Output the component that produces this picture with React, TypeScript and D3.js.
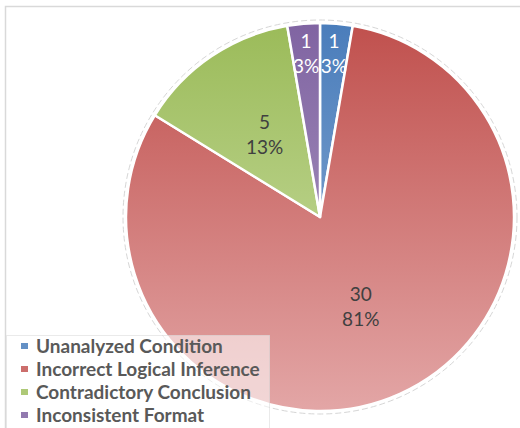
import { useEffect, useRef } from 'react';
import * as d3 from 'd3';

const categories = ['Unanalyzed Condition', 'Incorrect Logical Inference', 'Contradictory Conclusion', 'Inconsistent Format'];
const counts = [1, 30, 5, 1];
const percentLabels = ['3%', '81%', '13%', '3%'];
const topColors = ['#4a7dbb', '#c0504d', '#9bbb59', '#8064a2'];
const bottomColors = ['#95b3d7', '#e3a6a6', '#d0e2ae', '#b3a2c7'];
const labelColors = ['#ffffff', '#404040', '#404040', '#ffffff'];

export default function App() {
  const ref = useRef<SVGSVGElement>(null);

  useEffect(() => {
    const svg = d3.select(ref.current);
    svg.selectAll('*').remove();

    const cx = 320, cy = 217, r = 194;
    const data = categories.map((c, i) => ({ name: c, value: counts[i], i }));

    const defs = svg.append('defs');
    data.forEach(d => {
      const g = defs.append('linearGradient')
        .attr('id', 'grad' + d.i)
        .attr('gradientUnits', 'userSpaceOnUse')
        .attr('x1', 0).attr('y1', -r)
        .attr('x2', 0).attr('y2', r);
      g.append('stop').attr('offset', '0%').attr('stop-color', topColors[d.i]);
      g.append('stop').attr('offset', '100%').attr('stop-color', bottomColors[d.i]);
    });

    // chart frame
    svg.append('rect')
      .attr('x', 5.5).attr('y', 6.5)
      .attr('width', 600).attr('height', 600)
      .attr('fill', 'white')
      .attr('stroke', '#d9d9d9')
      .attr('stroke-width', 1.5);

    const pie = d3.pie<any>().value(d => d.value).sort(null);
    const arcs = pie(data);
    const arc = d3.arc<any>().innerRadius(0).outerRadius(r);

    const g = svg.append('g').attr('transform', `translate(${cx},${cy})`);

    g.append('circle')
      .attr('r', r + 3)
      .attr('fill', 'none')
      .attr('stroke', '#d6d6d6')
      .attr('stroke-width', 1)
      .attr('stroke-dasharray', '6 3');

    g.selectAll('path.slice')
      .data(arcs)
      .join('path')
      .attr('class', 'slice')
      .attr('d', arc)
      .attr('fill', d => `url(#grad${d.data.i})`)
      .attr('stroke', 'white')
      .attr('stroke-width', 2.5)
      .attr('stroke-linejoin', 'round');

    arcs.forEach(a => {
      const span = a.endAngle - a.startAngle;
      const lr = span < 0.3 ? r * 0.845 : r * 0.51;
      const mid = (a.startAngle + a.endAngle) / 2;
      const x = Math.sin(mid) * lr;
      const y = -Math.cos(mid) * lr;
      const t = g.append('text')
        .attr('text-anchor', 'middle')
        .attr('font-family', 'Lato, "Open Sans", sans-serif')
        .attr('font-size', 19)
        .attr('fill', labelColors[a.data.i]);
      t.append('tspan').attr('x', x).attr('y', y - 6).text(String(a.data.value));
      t.append('tspan').attr('x', x).attr('y', y + 19).text(percentLabels[a.data.i]);
    });

    // legend
    const lg = svg.append('g');
    lg.append('rect')
      .attr('x', 6.5).attr('y', 335.5)
      .attr('width', 263).attr('height', 100)
      .attr('fill', 'rgba(255,255,255,0.55)')
      .attr('stroke', 'rgba(220,220,220,0.6)')
      .attr('stroke-width', 1);

    const items = lg.selectAll('g.item')
      .data(data)
      .join('g')
      .attr('class', 'item')
      .attr('transform', (d, i) => `translate(21,${346 + i * 23})`);

    items.append('rect')
      .attr('x', 0).attr('y', -3)
      .attr('width', 7).attr('height', 6)
      .attr('fill', d => d3.interpolateRgb(topColors[d.i], bottomColors[d.i])(0.35));

    items.append('text')
      .attr('x', 15).attr('y', 6.5)
      .attr('font-family', 'Lato, "Open Sans", sans-serif')
      .attr('font-weight', 'bold')
      .attr('font-size', 19)
      .attr('fill', '#595959')
      .text(d => d.name);
  }, []);

  return (
    <svg ref={ref} width={520} height={428}
      style={{ position: 'absolute', left: 0, top: 0, background: 'white' }} />
  );
}
